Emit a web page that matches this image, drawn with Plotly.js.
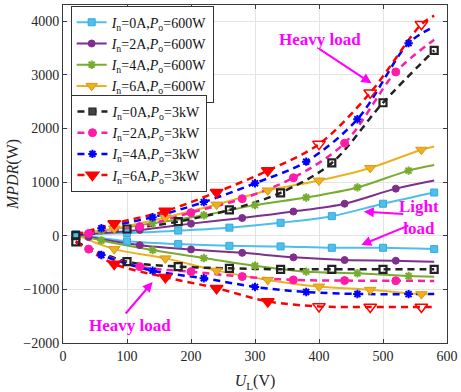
<!DOCTYPE html>
<html>
<head>
<meta charset="utf-8">
<script src="https://cdn.plot.ly/plotly-3.0.1.min.js"></script>
<style>html,body{margin:0;padding:0;background:#fff;}#chart{width:461px;height:392px;}</style>
</head>
<body>
<div id="chart"></div>
<script>
// ---- data ----
const U_0A = [20, 100, 180, 260, 340, 420, 500, 580];
const U_2A = [20, 40, 120, 200, 280, 360, 440, 520, 580];
const U_4A = [20, 60, 140, 220, 300, 380, 460, 540, 580];
const U_6A = [20, 80, 160, 240, 320, 400, 480, 560, 580];

const P600_0A_pos = [30, 50, 95, 150, 240, 364, 596, 805];
const P600_0A_neg = [30, -105, -157, -189, -200, -225, -225, -250];
const P600_2A_pos = [20, 30, 108, 225, 330, 450, 596, 877, 1030];
const P600_2A_neg = [20, -25, -176, -256, -320, -404, -454, -466, -485];
const P600_4A_pos = [20, 90, 230, 380, 570, 713, 900, 1213, 1318];
const P600_4A_neg = [20, -90, -268, -417, -559, -670, -700, -750, -763];
const P600_6A_pos = [30, 133, 340, 580, 843, 1028, 1263, 1602, 1663];
const P600_6A_neg = [20, -250, -423, -651, -824, -948, -1009, -1090, -1080];

const P3k_0A_pos = [0, 125, 262, 480, 800, 1356, 2478, 3454];
const P3k_0A_neg = [-114, -485, -575, -608, -626, -626, -626, -626];
const P3k_2A_pos = [0, 40, 170, 430, 690, 1080, 1725, 3052, 3651];
const P3k_2A_neg = [-110, -250, -577, -670, -762, -824, -837, -840, -843];
const P3k_4A_pos = [0, 140, 345, 626, 978, 1380, 2170, 3589, 3898];
const P3k_4A_neg = [-110, -360, -651, -793, -955, -1050, -1086, -1089, -1089];
const P3k_6A_pos = [20, 226, 459, 811, 1213, 1707, 2663, 3941, 4100];
const P3k_6A_neg = [-110, -528, -774, -978, -1225, -1318, -1330, -1330, -1330];

const NAMES_600 = ['<i>I</i><sub>n</sub>=0A,<i>P</i><sub>o</sub>=600W',
                   '<i>I</i><sub>n</sub>=2A,<i>P</i><sub>o</sub>=600W',
                   '<i>I</i><sub>n</sub>=4A,<i>P</i><sub>o</sub>=600W',
                   '<i>I</i><sub>n</sub>=6A,<i>P</i><sub>o</sub>=600W'];
const NAMES_3k = ['<i>I</i><sub>n</sub>=0A,<i>P</i><sub>o</sub>=3kW',
                  '<i>I</i><sub>n</sub>=2A,<i>P</i><sub>o</sub>=3kW',
                  '<i>I</i><sub>n</sub>=4A,<i>P</i><sub>o</sub>=3kW',
                  '<i>I</i><sub>n</sub>=6A,<i>P</i><sub>o</sub>=3kW'];

// ---- styles ----
const SERIF = '"Liberation Serif", "Times New Roman", serif';
const MAG = '#ff00ff';
const wrapSerif = t => '<span style="font-family:Liberation Serif, serif">' + t + '</span>';
const series = [
  {x: U_0A, pos: P600_0A_pos, neg: P600_0A_neg, name: NAMES_600[0], leg: 'legend', color: '#4dbeee', dash: 'solid', w: 2, sym: 'square', ms: 7, lc: '#35a9da', lw: 1, ends: true},
  {x: U_2A, pos: P600_2A_pos, neg: P600_2A_neg, name: NAMES_600[1], leg: 'legend', color: '#7e2f8e', dash: 'solid', w: 2, sym: 'circle', ms: 7, lc: '#7e2f8e', lw: 1, ends: false},
  {x: U_4A, pos: P600_4A_pos, neg: P600_4A_neg, name: NAMES_600[2], leg: 'legend', color: '#77ac30', dash: 'solid', w: 2, sym: 'asterisk-open', ms: 7, lc: '#77ac30', lw: 2, ends: false},
  {x: U_6A, pos: P600_6A_pos, neg: P600_6A_neg, name: NAMES_600[3], leg: 'legend', color: '#edb120', dash: 'solid', w: 2, sym: 'triangle-down', ms: 10, lc: '#d99a10', lw: 1, ends: false},
  {x: U_0A, pos: P3k_0A_pos, neg: P3k_0A_neg, name: NAMES_3k[0], leg: 'legend2', color: '#222222', dash: '7px,5px', w: 2.5, sym: 'square-open', ms: 7, lc: '#222222', lw: 2.2, ends: true, legSym: 'square', legColor: '#444'},
  {x: U_2A, pos: P3k_2A_pos, neg: P3k_2A_neg, name: NAMES_3k[1], leg: 'legend2', color: '#ff1ca8', dash: '7px,5px', w: 2.5, sym: 'circle', ms: 8, lc: '#ff1ca8', lw: 1, ends: false},
  {x: U_4A, pos: P3k_4A_pos, neg: P3k_4A_neg, name: NAMES_3k[2], leg: 'legend2', color: '#0000ff', dash: '7px,5px', w: 2.5, sym: 'asterisk-open', ms: 7, lc: '#0000ff', lw: 2, ends: false},
  {x: U_6A, pos: P3k_6A_pos, neg: P3k_6A_neg, name: NAMES_3k[3], leg: 'legend2', color: '#ff0000', dash: '7px,5px', w: 2.5, sym: 'triangle-down', ms: 11, lc: '#ff0000', lw: 1.5, ends: false, openAbove: 350},
];

const traces = [];
// lines first
series.forEach(s => {
  [s.pos, s.neg].forEach(y => {
    traces.push({x: s.x, y: y, type: 'scatter', mode: 'lines', showlegend: false, hoverinfo: 'skip',
      line: {color: s.color, width: s.w, dash: s.dash, shape: 'spline', smoothing: 0.9}});
  });
});
// markers
series.forEach(s => {
  [s.pos, s.neg].forEach(y => {
    const xs = [], ys = [];
    s.x.forEach((v, i) => {
      if (s.ends || (i > 0 && i < s.x.length - 1)) { xs.push(v); ys.push(y[i]); }
    });
    let sym = s.sym;
    if (s.openAbove) sym = xs.map(v => v > s.openAbove ? s.sym + '-open' : s.sym);
    traces.push({x: xs, y: ys, type: 'scatter', mode: 'markers', showlegend: false, hoverinfo: 'skip',
      marker: {symbol: sym, size: s.ms, color: s.color, line: {color: s.lc, width: s.lw}}});
  });
});
// legend entries
series.forEach(s => {
  traces.push({x: [null], y: [null], type: 'scatter', mode: 'lines+markers', name: wrapSerif(s.name), legend: s.leg,
    line: {color: s.color, width: s.w, dash: s.dash},
    marker: {symbol: s.legSym || s.sym, size: s.ms, color: s.legColor || s.color, line: {color: s.lc, width: s.legSym ? 1.2 : s.lw}}});
});

function axisCommon() {
  return {
    showgrid: true, gridcolor: '#e4e4e4', gridwidth: 1, zeroline: false,
    showline: true, linecolor: '#3a3a3a', linewidth: 1, mirror: 'ticks',
    ticks: 'inside', ticklen: 4, tickcolor: '#3a3a3a', tickwidth: 1,
    tickfont: {family: SERIF, size: 14, color: '#262626'}
  };
}
function legendCommon(x, y) {
  return {
    x: x, y: y,
    xref: 'paper', yref: 'paper', xanchor: 'left', yanchor: 'top',
    bgcolor: '#ffffff', bordercolor: '#333333', borderwidth: 1,
    font: {family: SERIF, size: 14, color: '#111111'}, tracegroupgap: 0, itemwidth: 30
  };
}

const layout = {
  width: 461, height: 392,
  font: {family: SERIF, size: 14, color: '#262626'},
  margin: {l: 63, r: 14, t: 5, b: 49},
  paper_bgcolor: '#ffffff', plot_bgcolor: '#ffffff',
  xaxis: Object.assign(axisCommon(), {range: [0, 600], dtick: 100, tick0: 0,
    title: {text: '<i>U</i><sub>L</sub>(V)', font: {family: SERIF, size: 16, color: '#262626'}, standoff: 12}}),
  yaxis: Object.assign(axisCommon(), {range: [-2000, 4300], dtick: 1000, tick0: 0,
    title: {text: '<i>MPDR</i>(W)', font: {family: SERIF, size: 16, color: '#262626'}, standoff: 0}}),
  legend: legendCommon(0.02, 0.998),
  legend2: legendCommon(0.022, 0.734),
  annotations: [
    {x: 401, y: 3648, xref: 'x', yref: 'y', text: '<b>Heavy load</b>', showarrow: false,
     font: {family: SERIF, size: 17, color: MAG}},
    {x: 482, y: 2841, ax: 398, ay: 3499, xref: 'x', yref: 'y', axref: 'x', ayref: 'y', text: '',
     showarrow: true, arrowhead: 2, arrowsize: 1, arrowwidth: 2, arrowcolor: MAG},
    {x: 104, y: -1665, xref: 'x', yref: 'y', text: '<b>Heavy load</b>', showarrow: false,
     font: {family: SERIF, size: 17, color: MAG}},
    {x: 140, y: -863, ax: 96, ay: -1478, xref: 'x', yref: 'y', axref: 'x', ayref: 'y', text: '',
     showarrow: true, arrowhead: 2, arrowsize: 1, arrowwidth: 2, arrowcolor: MAG},
    {x: 556, y: 348, xref: 'x', yref: 'y', text: '<b>Light<br>load</b>', showarrow: false,
     font: {family: SERIF, size: 17, color: MAG}},
    {x: 470, y: 447, ax: 534, ay: 404, xref: 'x', yref: 'y', axref: 'x', ayref: 'y', text: '',
     showarrow: true, arrowhead: 2, arrowsize: 1, arrowwidth: 2, arrowcolor: MAG},
    {x: 466, y: -174, ax: 542, ay: 199, xref: 'x', yref: 'y', axref: 'x', ayref: 'y', text: '',
     showarrow: true, arrowhead: 2, arrowsize: 1, arrowwidth: 2, arrowcolor: MAG}
  ]
};

Plotly.newPlot('chart', traces, layout, {displayModeBar: false, staticPlot: true});
</script>
</body>
</html>
